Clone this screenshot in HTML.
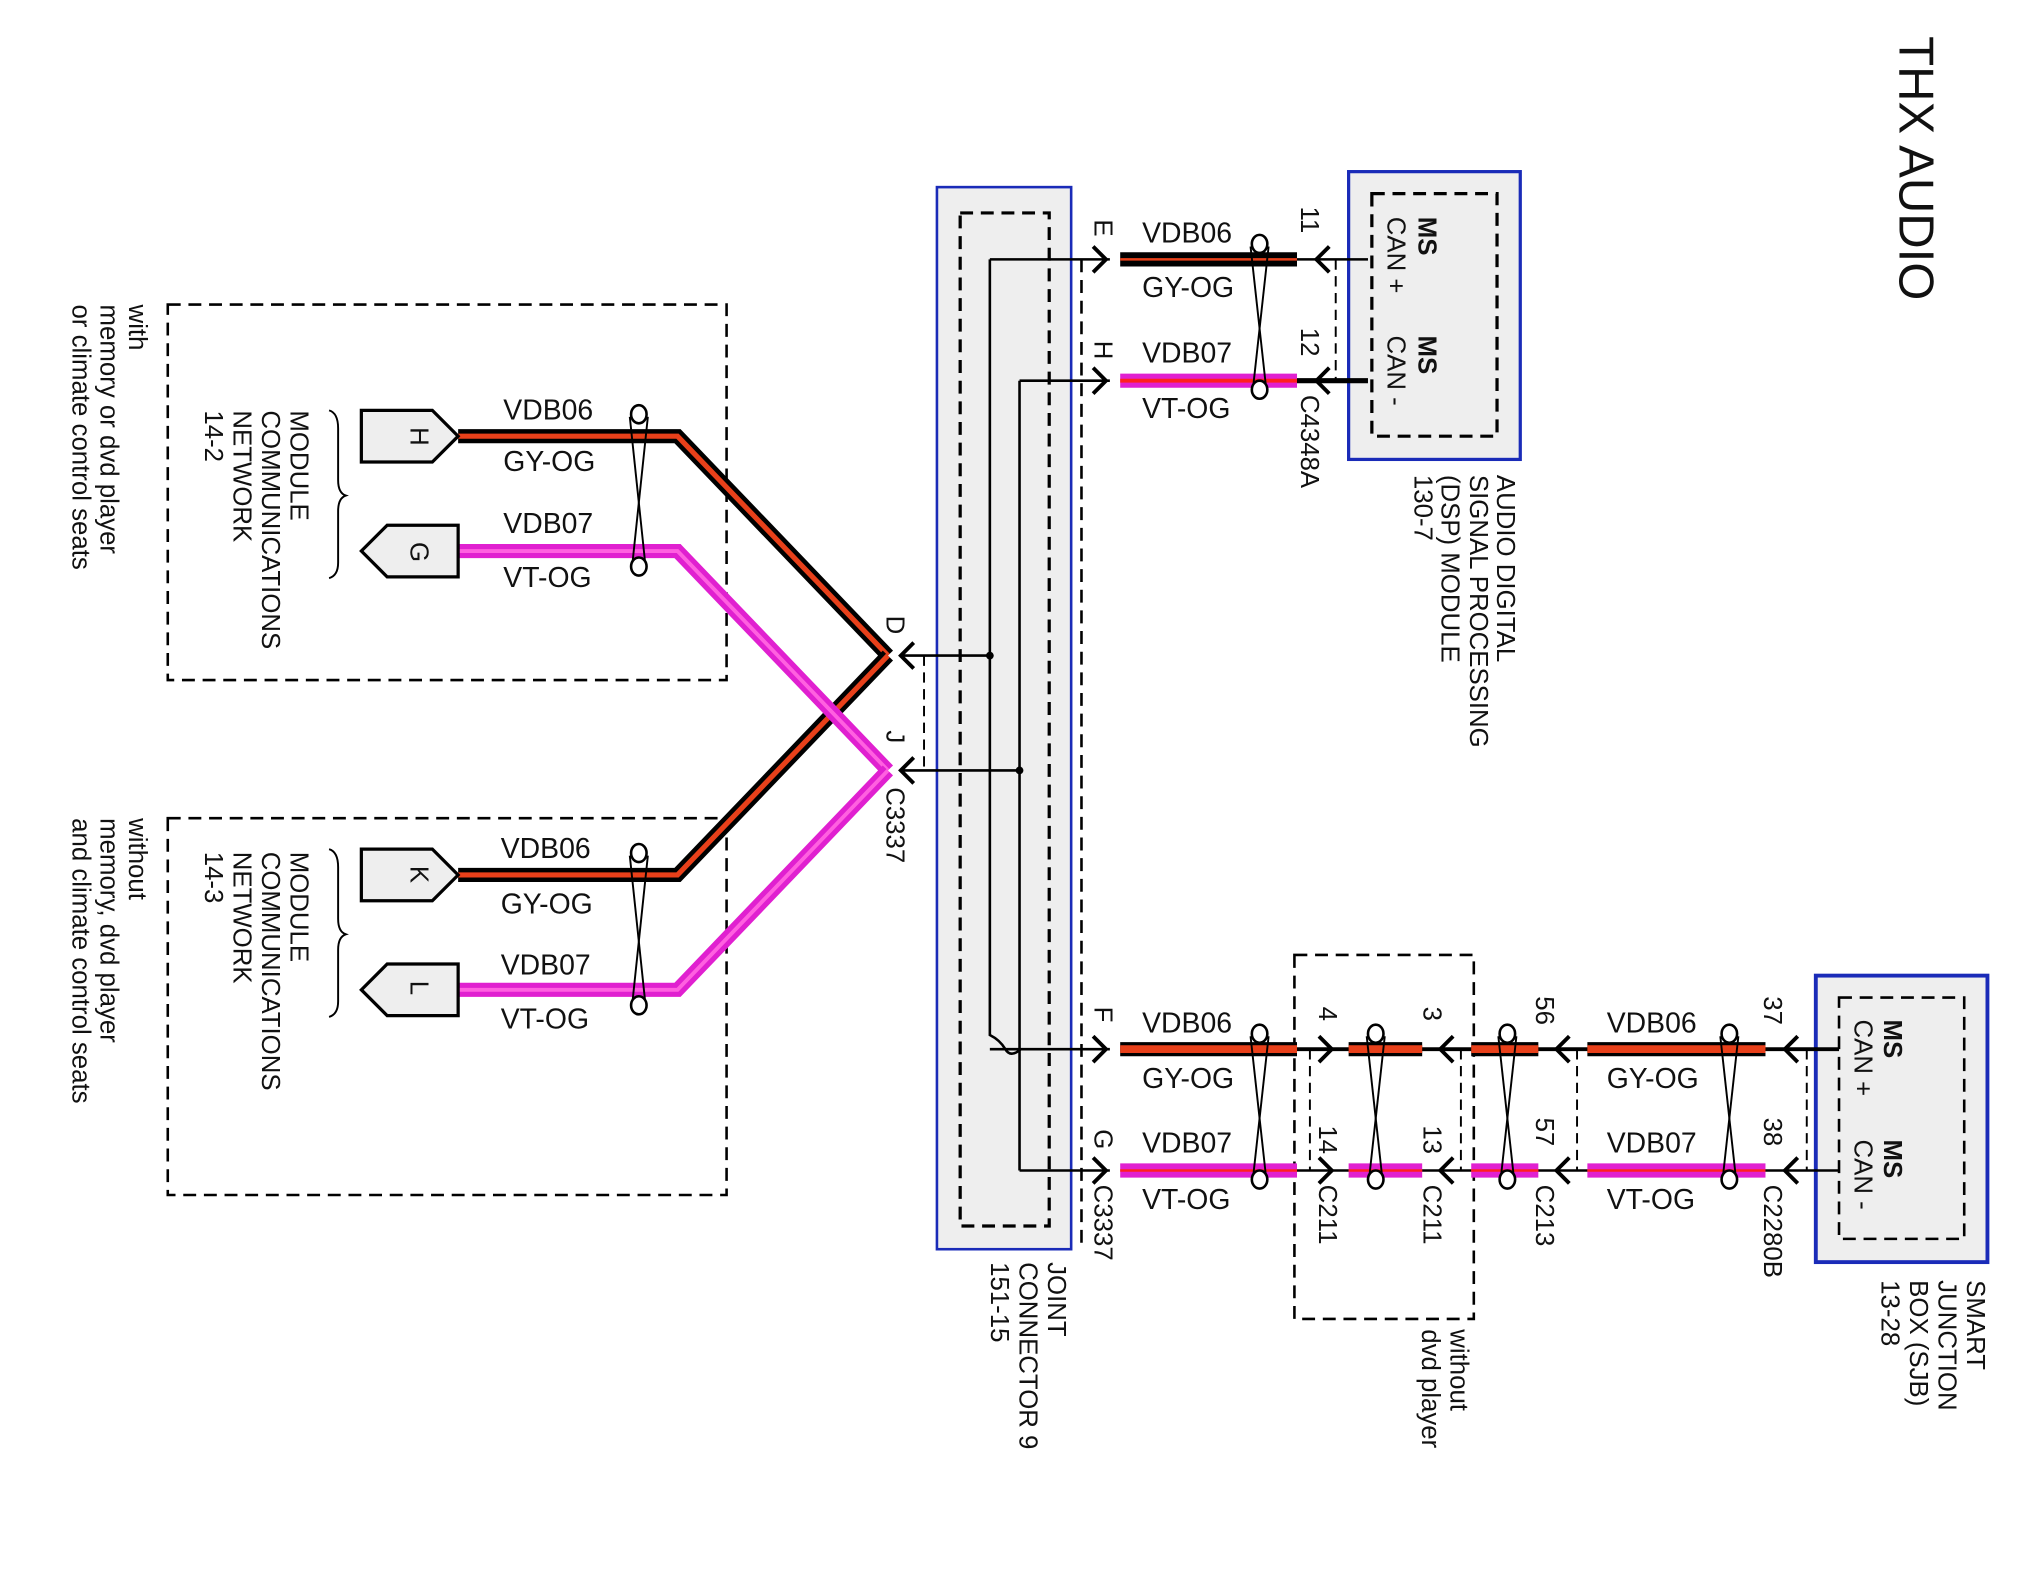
<!DOCTYPE html>
<html><head><meta charset="utf-8"><style>
html,body{margin:0;padding:0;background:#fff;}
svg{display:block;}
text{font-family:"Liberation Sans",sans-serif;fill:#111;}
</style></head><body>
<svg width="2021" height="1577" viewBox="0 0 1566 1222" preserveAspectRatio="none" xmlns="http://www.w3.org/2000/svg">
<rect width="1566" height="1222" fill="#fff"/>
<defs>
<g id="tw"><line x1="-7" y1="-10" x2="5" y2="104" stroke="#000" stroke-width="1.5"/><line x1="7" y1="-10" x2="-5" y2="104" stroke="#000" stroke-width="1.5"/><ellipse cx="0" cy="-12" rx="6" ry="7" fill="#fff" stroke="#000" stroke-width="2"/><ellipse cx="0" cy="106" rx="6" ry="7" fill="#fff" stroke="#000" stroke-width="2"/></g>
<g id="twl"><line x1="-7" y1="-10" x2="5" y2="99" stroke="#000" stroke-width="1.5"/><line x1="7" y1="-10" x2="-5" y2="99" stroke="#000" stroke-width="1.5"/><ellipse cx="0" cy="-12" rx="6" ry="7" fill="#fff" stroke="#000" stroke-width="2"/><ellipse cx="0" cy="101" rx="6" ry="7" fill="#fff" stroke="#000" stroke-width="2"/></g>
<path id="ar" d="M-8,-10 L2,0 L-8,10" fill="none" stroke="#000" stroke-width="3"/>
<path id="al" d="M8,-10 L-2,0 L8,10" fill="none" stroke="#000" stroke-width="3"/>
</defs>

<text transform="translate(1472,28) rotate(90)" font-size="38">THX AUDIO</text>

<rect x="726" y="145" width="104" height="823" fill="#eee" stroke="#1a2bb8" stroke-width="2"/>
<rect x="744" y="165" width="69" height="785" fill="none" stroke="#000" stroke-width="2.5" stroke-dasharray="10,6"/>
<line x1="838" y1="201" x2="838" y2="968" stroke="#000" stroke-width="2" stroke-dasharray="10,6"/>
<line x1="716" y1="508" x2="716" y2="597" stroke="#000" stroke-width="1.5" stroke-dasharray="8,5"/>

<rect x="1045" y="133" width="133" height="223" fill="#eee" stroke="#1a2bb8" stroke-width="2.5"/>
<rect x="1063" y="150" width="97" height="188" fill="none" stroke="#000" stroke-width="2.5" stroke-dasharray="10,6"/>
<line x1="1035" y1="201" x2="1035" y2="295" stroke="#000" stroke-width="1.5" stroke-dasharray="8,5"/>

<rect x="1407" y="756" width="133" height="222" fill="#eee" stroke="#1a2bb8" stroke-width="3"/>
<rect x="1425" y="773" width="97" height="187" fill="none" stroke="#000" stroke-width="2" stroke-dasharray="10,6"/>

<rect x="1003" y="740" width="139" height="282" fill="none" stroke="#000" stroke-width="2" stroke-dasharray="10,6"/>
<line x1="1015" y1="813" x2="1015" y2="907" stroke="#000" stroke-width="1.5" stroke-dasharray="8,5"/>
<line x1="1132" y1="813" x2="1132" y2="907" stroke="#000" stroke-width="1.5" stroke-dasharray="8,5"/>
<line x1="1222" y1="813" x2="1222" y2="907" stroke="#000" stroke-width="1.5" stroke-dasharray="8,5"/>
<line x1="1400" y1="813" x2="1400" y2="907" stroke="#000" stroke-width="1.5" stroke-dasharray="8,5"/>

<rect x="130" y="236" width="433" height="291" fill="none" stroke="#000" stroke-width="2" stroke-dasharray="10,6"/>
<rect x="130" y="634" width="433" height="292" fill="none" stroke="#000" stroke-width="2" stroke-dasharray="10,6"/>

<g stroke="#000" stroke-width="2" fill="none">
<path d="M767,201 L767,802 Q775,806 779,813 Q783,820 791,813"/>
<line x1="767" y1="201" x2="860" y2="201"/>
<line x1="790" y1="295" x2="860" y2="295"/>
<line x1="790" y1="295" x2="790" y2="907"/>
<line x1="767" y1="813" x2="860" y2="813"/>
<line x1="790" y1="907" x2="860" y2="907"/>
<line x1="700" y1="508" x2="767" y2="508"/>
<line x1="700" y1="597" x2="790" y2="597"/>
<line x1="1005" y1="201" x2="1060" y2="201"/>
<line x1="1005" y1="295" x2="1060" y2="295" stroke-width="4"/>
<line x1="1005" y1="813" x2="1425" y2="813" stroke-width="3"/>
<line x1="1005" y1="907" x2="1425" y2="907" stroke-width="2"/>
</g>
<circle cx="767" cy="508" r="3" fill="#000"/>
<circle cx="790" cy="597" r="3" fill="#000"/>

<line x1="868" y1="201" x2="1005" y2="201" stroke="#000" stroke-width="11"/>
<line x1="868" y1="201" x2="1005" y2="201" stroke="#e8401a" stroke-width="2"/>
<line x1="868" y1="295" x2="1005" y2="295" stroke="#e020d0" stroke-width="11"/>
<line x1="868" y1="295" x2="1005" y2="295" stroke="#ff2020" stroke-width="3"/>
<g>
<line x1="868" y1="813" x2="1005" y2="813" stroke="#000" stroke-width="11"/>
<line x1="868" y1="813" x2="1005" y2="813" stroke="#e8401a" stroke-width="6"/>
<line x1="1045" y1="813" x2="1102" y2="813" stroke="#000" stroke-width="11"/>
<line x1="1045" y1="813" x2="1102" y2="813" stroke="#e8401a" stroke-width="6"/>
<line x1="1140" y1="813" x2="1192" y2="813" stroke="#000" stroke-width="11"/>
<line x1="1140" y1="813" x2="1192" y2="813" stroke="#e8401a" stroke-width="6"/>
<line x1="1230" y1="813" x2="1368" y2="813" stroke="#000" stroke-width="11"/>
<line x1="1230" y1="813" x2="1368" y2="813" stroke="#e8401a" stroke-width="6"/>
<line x1="868" y1="907" x2="1005" y2="907" stroke="#e020d0" stroke-width="11"/>
<line x1="868" y1="907" x2="1005" y2="907" stroke="#ff2020" stroke-width="2"/>
<line x1="1045" y1="907" x2="1102" y2="907" stroke="#e020d0" stroke-width="11"/>
<line x1="1045" y1="907" x2="1102" y2="907" stroke="#ff2020" stroke-width="2"/>
<line x1="1140" y1="907" x2="1192" y2="907" stroke="#e020d0" stroke-width="11"/>
<line x1="1140" y1="907" x2="1192" y2="907" stroke="#ff2020" stroke-width="2"/>
<line x1="1230" y1="907" x2="1368" y2="907" stroke="#e020d0" stroke-width="11"/>
<line x1="1230" y1="907" x2="1368" y2="907" stroke="#ff2020" stroke-width="2"/>
</g>

<use href="#twl" x="976" y="201"/>
<use href="#twl" x="976" y="813"/>
<use href="#twl" x="1066" y="813"/>
<use href="#twl" x="1168" y="813"/>
<use href="#twl" x="1340" y="813"/>

<use href="#ar" x="855" y="201"/><use href="#ar" x="855" y="295"/>
<use href="#al" x="1022" y="201"/><use href="#al" x="1022" y="295"/>
<use href="#ar" x="855" y="813"/><use href="#ar" x="855" y="907"/>
<use href="#ar" x="1030" y="813"/><use href="#ar" x="1030" y="907"/>
<use href="#al" x="1118" y="813"/><use href="#al" x="1118" y="907"/>
<use href="#al" x="1208" y="813"/><use href="#al" x="1208" y="907"/>
<use href="#al" x="1385" y="813"/><use href="#al" x="1385" y="907"/>
<use href="#al" x="700" y="508"/><use href="#al" x="700" y="597"/>

<g fill="none" stroke-linejoin="miter">
<polyline points="355,338 525,338 688,508" stroke="#000" stroke-width="11"/>
<polyline points="355,338 525,338 688,508" stroke="#e8401a" stroke-width="4"/>
<polyline points="355,678 525,678 688,508" stroke="#000" stroke-width="11"/>
<polyline points="355,678 525,678 688,508" stroke="#e8401a" stroke-width="4"/>
<polyline points="355,427 525,427 688,597" stroke="#e020d0" stroke-width="11"/>
<polyline points="355,427 525,427 688,597" stroke="#ff60e0" stroke-width="3"/>
<polyline points="355,767 525,767 688,597" stroke="#e020d0" stroke-width="11"/>
<polyline points="355,767 525,767 688,597" stroke="#ff60e0" stroke-width="3"/>
</g>
<use href="#tw" x="495" y="333"/>
<use href="#tw" x="495" y="673"/>

<g fill="#eee" stroke="#000" stroke-width="2.5">
<polygon points="280,318 335,318 355,338 335,358 280,358"/>
<polygon points="355,407 300,407 280,427 300,447 355,447"/>
<polygon points="280,658 335,658 355,678 335,698 280,698"/>
<polygon points="355,747 300,747 280,767 300,787 355,787"/>
</g>
<text transform="translate(318,331) rotate(90)" font-size="20">H</text>
<text transform="translate(318,420) rotate(90)" font-size="20">G</text>
<text transform="translate(318,671) rotate(90)" font-size="20">K</text>
<text transform="translate(318,760) rotate(90)" font-size="20">L</text>

<g fill="none" stroke="#000" stroke-width="1.5">
<path d="M255,318 Q262,320 262,332 L262,372 Q262,382 268,384 Q262,386 262,396 L262,436 Q262,446 255,448"/>
<path d="M255,658 Q262,660 262,672 L262,712 Q262,722 268,724 Q262,726 262,736 L262,776 Q262,786 255,788"/>
</g>

<g font-size="22">
<text x="885" y="188">VDB06</text><text x="885" y="230">GY-OG</text>
<text x="885" y="281">VDB07</text><text x="885" y="324">VT-OG</text>
<text x="885" y="800">VDB06</text><text x="885" y="843">GY-OG</text>
<text x="885" y="893">VDB07</text><text x="885" y="937">VT-OG</text>
<text x="1245" y="800">VDB06</text><text x="1245" y="843">GY-OG</text>
<text x="1245" y="893">VDB07</text><text x="1245" y="937">VT-OG</text>
<text x="390" y="325">VDB06</text><text x="390" y="365">GY-OG</text>
<text x="390" y="413">VDB07</text><text x="390" y="455">VT-OG</text>
<text x="388" y="665">VDB06</text><text x="388" y="708">GY-OG</text>
<text x="388" y="755">VDB07</text><text x="388" y="797">VT-OG</text>
</g>

<g font-size="20">
<text transform="translate(848,170) rotate(90)">E</text>
<text transform="translate(848,264) rotate(90)">H</text>
<text transform="translate(848,780) rotate(90)">F</text>
<text transform="translate(848,875) rotate(90)">G</text>
<text transform="translate(848,918) rotate(90)">C3337</text>
<text transform="translate(1008,160) rotate(90)">11</text>
<text transform="translate(1008,254) rotate(90)">12</text>
<text transform="translate(1008,306) rotate(90)">C4348A</text>
<text transform="translate(687,477) rotate(90)">D</text>
<text transform="translate(687,566) rotate(90)">J</text>
<text transform="translate(687,610) rotate(90)">C3337</text>
<text transform="translate(1022,780) rotate(90)">4</text>
<text transform="translate(1022,872) rotate(90)">14</text>
<text transform="translate(1022,918) rotate(90)">C211</text>
<text transform="translate(1103,780) rotate(90)">3</text>
<text transform="translate(1103,872) rotate(90)">13</text>
<text transform="translate(1103,918) rotate(90)">C211</text>
<text transform="translate(1190,772) rotate(90)">56</text>
<text transform="translate(1190,866) rotate(90)">57</text>
<text transform="translate(1190,918) rotate(90)">C213</text>
<text transform="translate(1367,772) rotate(90)">37</text>
<text transform="translate(1367,866) rotate(90)">38</text>
<text transform="translate(1367,918) rotate(90)">C2280B</text>
<text transform="translate(1099,168) rotate(90)" font-weight="bold">MS</text>
<text transform="translate(1075,168) rotate(90)">CAN +</text>
<text transform="translate(1099,260) rotate(90)" font-weight="bold">MS</text>
<text transform="translate(1075,260) rotate(90)">CAN -</text>
<text transform="translate(1460,790) rotate(90)" font-weight="bold">MS</text>
<text transform="translate(1437,790) rotate(90)">CAN +</text>
<text transform="translate(1460,883) rotate(90)" font-weight="bold">MS</text>
<text transform="translate(1437,883) rotate(90)">CAN -</text>
<text transform="translate(1160,368) rotate(90)">AUDIO DIGITAL</text>
<text transform="translate(1139,368) rotate(90)">SIGNAL PROCESSING</text>
<text transform="translate(1117,368) rotate(90)">(DSP) MODULE</text>
<text transform="translate(1096,368) rotate(90)">130-7</text>
<text transform="translate(1524,992) rotate(90)">SMART</text>
<text transform="translate(1502,992) rotate(90)">JUNCTION</text>
<text transform="translate(1480,992) rotate(90)">BOX (SJB)</text>
<text transform="translate(1458,992) rotate(90)">13-28</text>
<text transform="translate(812,978) rotate(90)">JOINT</text>
<text transform="translate(790,978) rotate(90)">CONNECTOR 9</text>
<text transform="translate(768,978) rotate(90)">151-15</text>
<text transform="translate(1124,1030) rotate(90)">without</text>
<text transform="translate(1102,1030) rotate(90)">dvd player</text>
<text transform="translate(225,318) rotate(90)">MODULE</text>
<text transform="translate(203,318) rotate(90)">COMMUNICATIONS</text>
<text transform="translate(181,318) rotate(90)">NETWORK</text>
<text transform="translate(159,318) rotate(90)">14-2</text>
<text transform="translate(225,660) rotate(90)">MODULE</text>
<text transform="translate(203,660) rotate(90)">COMMUNICATIONS</text>
<text transform="translate(181,660) rotate(90)">NETWORK</text>
<text transform="translate(159,660) rotate(90)">14-3</text>
<text transform="translate(100,236) rotate(90)">with</text>
<text transform="translate(78,236) rotate(90)">memory or dvd player</text>
<text transform="translate(56,236) rotate(90)">or climate control seats</text>
<text transform="translate(100,634) rotate(90)">without</text>
<text transform="translate(78,634) rotate(90)">memory, dvd player</text>
<text transform="translate(56,634) rotate(90)">and climate control seats</text>
</g>
</svg>
</body></html>
